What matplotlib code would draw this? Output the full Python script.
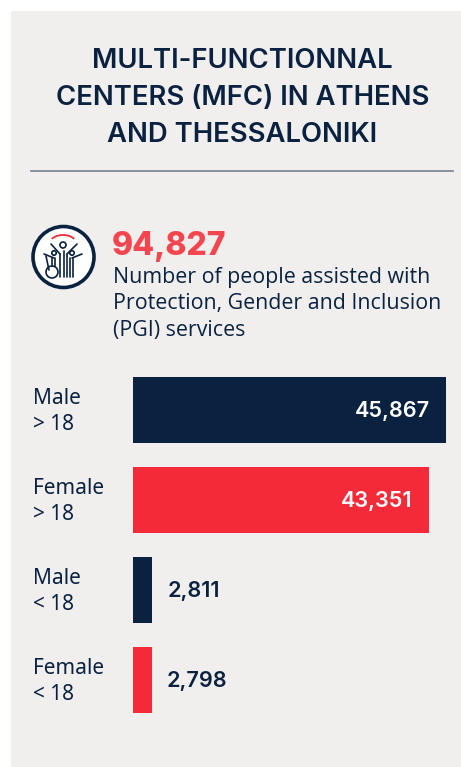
import matplotlib
matplotlib.use('Agg')
import matplotlib.pyplot as plt
from matplotlib.patches import Rectangle, Circle, Arc

categories = ['Male\n> 18', 'Female\n> 18', 'Male\n< 18', 'Female\n< 18']
values = [45867, 43351, 2811, 2798]
value_labels = ['45,867', '43,351', '2,811', '2,798']
title_lines = ['MULTI-FUNCTIONNAL', 'CENTERS (MFC) IN ATHENS', 'AND THESSALONIKI']
big_number = '94,827'
desc_lines = ['Number of people assisted with', 'Protection, Gender and Inclusion', '(PGI) services']

navy = '#0a2240'
red = '#f42a38'
panel = '#f1efee'
W, H = 461, 767
bar_colors = [navy, red, navy, red]

fig = plt.figure(figsize=(W / 100, H / 100), dpi=100, facecolor='white')

# pixel canvas for everything that is not a bar
bg = fig.add_axes([0, 0, 1, 1])
bg.set_xlim(0, W)
bg.set_ylim(H, 0)
bg.axis('off')
bg.add_patch(Rectangle((11, 11), W - 11, H - 11, fc=panel, ec='none'))

for i, line in enumerate(title_lines):
    bg.text(242.5, 60.5 + i * 37.5, line, ha='center', va='center', family='Inter',
            fontsize=19.8, fontweight='semibold', color=navy)
bg.plot([31, 453], [171, 171], color='#76808f', lw=1.2)

# icon
bg.add_patch(Circle((63.5, 257), 30.5, fc='white', ec=navy, lw=2.6))
bg.add_patch(Arc((63, 243), 26, 16, theta1=200, theta2=340, color=red, lw=1.3))
icon_lines = [
    ([60, 60], [277, 254]), ([63.5, 63.5], [277, 251]), ([67, 67], [277, 254]),
    ([51, 60], [244, 254]), ([77, 67], [244, 254]),
    ([70, 70], [277, 258]), ([73, 73], [277, 258]), ([72, 82], [258, 254]),
    ([52, 52], [266, 258]), ([55, 55], [266, 258]), ([44, 54], [254, 258]),
    ([46, 49], [256, 270]),
]
for xs, ys in icon_lines:
    bg.plot(xs, ys, color=navy, lw=1.2, solid_capstyle='round')
bg.add_patch(Circle((63, 245), 3, fc='white', ec=navy, lw=1.2))
bg.add_patch(Circle((54, 253), 2.2, fc='white', ec=navy, lw=1.2))
bg.add_patch(Circle((72, 253), 2.2, fc='white', ec=navy, lw=1.2))
bg.add_patch(Circle((52, 272), 6, fc='none', ec=navy, lw=1.2))

bg.text(112, 247, big_number, ha='left', va='center', family='Inter',
        fontsize=23, fontweight='heavy', color='#f5464f')
for i, line in enumerate(desc_lines):
    bg.text(113, 277.5 + i * 26.5, line, ha='left', va='center', family='Open Sans',
            fontsize=15.4, color=navy)

# bars
ax = fig.add_axes([133 / W, 1 - 713 / H, 313 / W, (713 - 377) / H])
ax.patch.set_alpha(0)
ax.set_xlim(0, values[0])
ax.set_ylim(3 + 33 / 90, -33 / 90)
ax.barh(range(len(values)), values, height=66 / 90, color=bar_colors)
ax.axis('off')

for i, (v, lab) in enumerate(zip(values, value_labels)):
    if v > 10000:
        ax.annotate(lab, (v, i), xytext=(-16, -1), textcoords='offset pixels', ha='right',
                    va='center', family='Inter', fontsize=15.6, fontweight='semibold', color='white')
    else:
        ax.annotate(lab, (v, i), xytext=(15, -1), textcoords='offset pixels', ha='left',
                    va='center', family='Inter', fontsize=15.6, fontweight='semibold', color=navy)
    one, two = categories[i].split('\n')
    y0 = 398.5 + i * 90
    bg.text(33, y0, one, ha='left', va='center', family='Noto Sans', fontsize=15, fontweight='medium', color=navy)
    bg.text(33, y0 + 26.5, two, ha='left', va='center', family='Noto Sans', fontsize=15, fontweight='medium', color=navy)

fig.savefig('out.png', dpi=100)
